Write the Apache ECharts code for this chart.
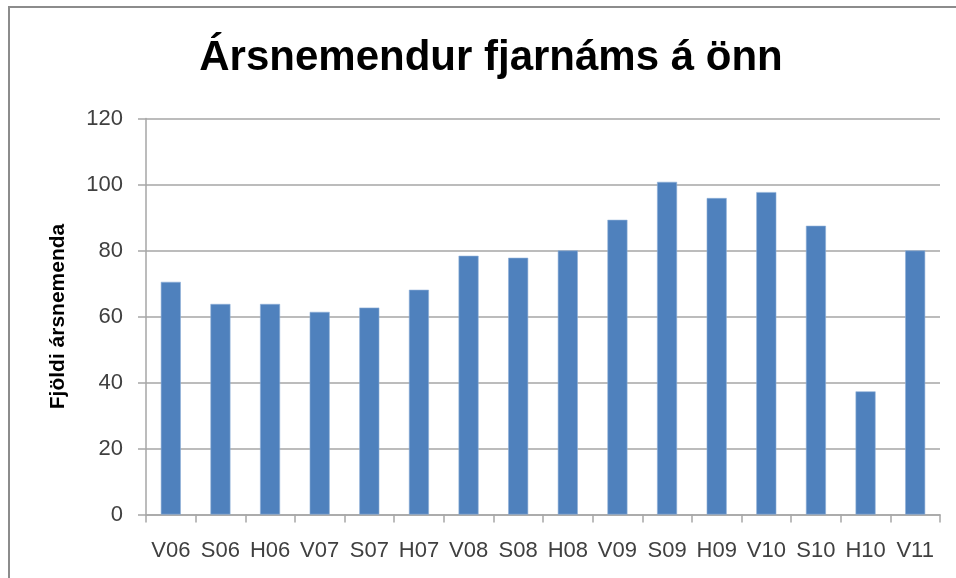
<!DOCTYPE html>
<html>
<head>
<meta charset="utf-8">
<script src="https://cdn.jsdelivr.net/npm/echarts@6/dist/echarts.min.js"></script>
<style>
    html, body { margin: 0; padding: 0; background: #fff; }
    #main { width: 956px; height: 578px; }
</style>
</head>
<body>
<div id="main"></div>
<script>
// data
const categories = ['V06', 'S06', 'H06', 'V07', 'S07', 'H07', 'V08', 'S08', 'H08', 'V09', 'S09', 'H09', 'V10', 'S10', 'H10', 'V11'];
const students = [70.5, 63.8, 63.8, 61.4, 62.7, 68.1, 78.4, 77.8, 80.0, 89.3, 100.8, 95.9, 97.7, 87.5, 37.3, 80.0];
const yTicks = { min: 0, max: 120, interval: 20 };

const axisGrey = '#a6a6a6';
const labelColor = '#404040';

let myChart = echarts.init(document.getElementById('main'));

let option = {
    backgroundColor: '#fff',
    animation: false,
    title: {
        text: 'Ársnemendur fjarnáms á önn',
        left: 486,
        top: 32,
        textAlign: 'center',
        textStyle: {
            fontFamily: 'Liberation Sans',
            fontSize: 42,
            fontWeight: 'bold',
            color: '#000'
        }
    },
    graphic: [{
        type: 'rect',
        shape: { x: 9, y: 7, width: 1000, height: 700 },
        style: { fill: 'none', stroke: '#8c8c8c', lineWidth: 2 },
        silent: true
    }],
    grid: {
        left: 146,
        right: 16,
        top: 118.5,
        bottom: 63.5
    },
    xAxis: {
        type: 'category',
        data: categories,
        axisLine: { lineStyle: { color: axisGrey, width: 1.5 } },
        axisTick: { show: true, length: 8, lineStyle: { color: axisGrey, width: 1.5 } },
        axisLabel: {
            interval: 0,
            margin: 25,
            color: labelColor,
            fontFamily: 'Liberation Sans',
            fontSize: 22
        }
    },
    yAxis: {
        type: 'value',
        min: yTicks.min,
        max: yTicks.max,
        interval: yTicks.interval,
        name: 'Fjöldi ársnemenda',
        nameLocation: 'middle',
        nameRotate: 90,
        nameGap: 77,
        nameTextStyle: {
            fontFamily: 'Liberation Sans',
            fontSize: 21,
            fontWeight: 'bold',
            color: '#000'
        },
        axisLine: { show: true, lineStyle: { color: axisGrey, width: 1.5 } },
        axisTick: { show: true, length: 8, lineStyle: { color: axisGrey, width: 1.5 } },
        axisLabel: {
            margin: 23,
            color: labelColor,
            fontFamily: 'Liberation Sans',
            fontSize: 22
        },
        splitLine: { lineStyle: { color: axisGrey, width: 1.5 } }
    },
    series: [{
        name: 'Ársnemendur',
        type: 'bar',
        data: students,
        barWidth: 20,
        itemStyle: {
            color: '#4f81bd',
            borderColor: '#8fb0d8',
            borderWidth: 0.6
        }
    }]
};

myChart.setOption(option);
</script>
</body>
</html>
